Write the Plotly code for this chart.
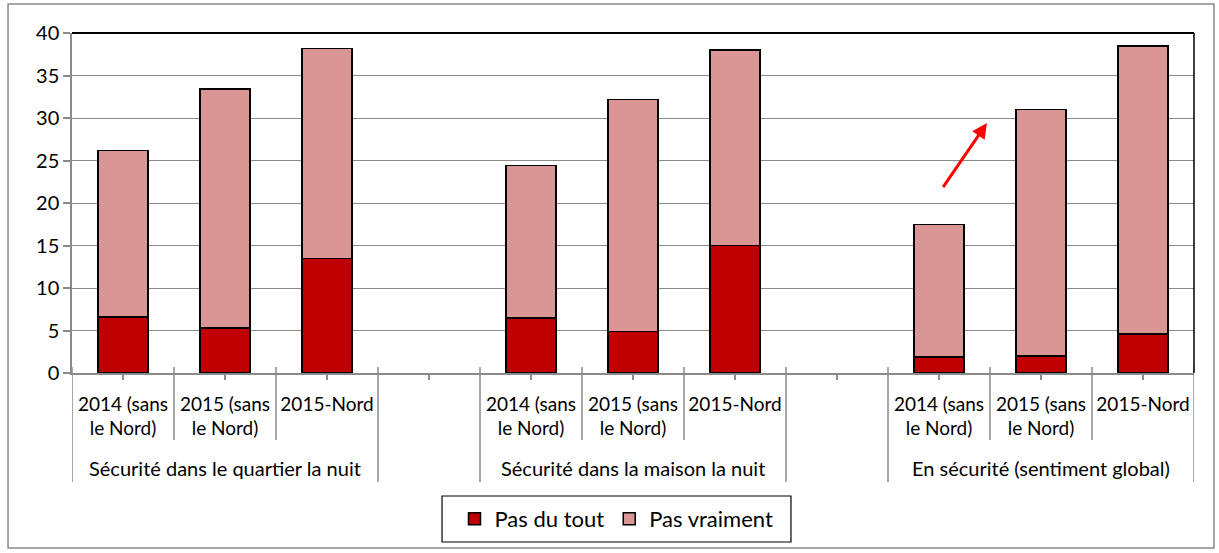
import plotly.graph_objects as go

# Data
groups = [
    "Sécurité dans le quartier la nuit",
    "Sécurité dans la maison la nuit",
    "En sécurité (sentiment global)",
]
periods = ["2014 (sans<br>le Nord)", "2015 (sans<br>le Nord)", "2015-Nord"]
pas_du_tout = [6.6, 5.3, 13.5, 6.5, 4.9, 15.0, 1.9, 2.0, 4.6]
pas_vraiment = [19.6, 28.1, 24.7, 17.9, 27.3, 23.0, 15.6, 29.0, 33.9]
y_ticks = [0, 5, 10, 15, 20, 25, 30, 35, 40]

FONT = "Lato"
DARK = "#C00000"
LIGHT = "#D99694"
GRID = "#8a8a8a"

# one empty slot after each group, like the Excel sheet
slot = len(periods) + 1
x_pos = [g * slot + i for g in range(len(groups)) for i in range(len(periods))]
n_slots = len(groups) * slot - 1

tick_vals = list(range(n_slots))
tick_text = []
for k in tick_vals:
    i = k % slot
    tick_text.append(periods[i] if i < len(periods) else "")

fig = go.Figure()
fig.add_trace(
    go.Bar(
        name="Pas du tout",
        x=x_pos,
        y=pas_du_tout,
        width=0.49,
        marker=dict(color=DARK, line=dict(color="black", width=1.5)),
    )
)
fig.add_trace(
    go.Bar(
        name="Pas vraiment",
        x=x_pos,
        y=pas_vraiment,
        width=0.49,
        marker=dict(color=LIGHT, line=dict(color="black", width=1.5)),
    )
)

shapes = []
# divider lines under the category axis
for k in range(n_slots + 1):
    b = k - 0.5
    is_group_edge = k % slot == 0 or k % slot == len(periods) or k == n_slots
    shapes.append(
        dict(
            type="line", xref="x", yref="paper",
            x0=b, x1=b, y0=0.018, y1=-0.3206 if is_group_edge else -0.197,
            line=dict(color=GRID, width=1.5),
        )
    )
# black plot border on top and right
shapes.append(dict(type="line", xref="paper", yref="paper", x0=0, x1=1, y0=1, y1=1,
                   line=dict(color="black", width=2)))
shapes.append(dict(type="line", xref="paper", yref="paper", x0=1, x1=1, y0=0, y1=1,
                   line=dict(color="black", width=1.5)))
# legend box
shapes.append(dict(type="rect", xref="paper", yref="paper",
                   x0=0.3298, x1=0.6408, y0=-0.497, y1=-0.3618,
                   line=dict(color="black", width=1.2)))
# outer chart border
shapes.append(dict(type="rect", xref="paper", yref="paper",
                   x0=-0.0570, x1=1.0178, y0=-0.5147, y1=1.0853,
                   line=dict(color=GRID, width=1.5)))

annotations = []
for g, name in enumerate(groups):
    annotations.append(
        dict(
            text=name, xref="x", yref="paper",
            x=g * slot + (len(periods) - 1) / 2, y=-0.279,
            showarrow=False, yanchor="middle",
            font=dict(family=FONT, size=20, color="black"),
        )
    )
# red arrow
annotations.append(
    dict(
        x=8.47, y=29.4, ax=8.03, ay=21.7, xref="x", yref="y", axref="x", ayref="y",
        text="", showarrow=True, arrowhead=2, arrowsize=1, arrowwidth=3,
        arrowcolor="#FF0000",
    )
)

fig.update_layout(
    width=1219,
    height=553,
    margin=dict(l=72, r=25, t=33, b=180),
    barmode="stack",
    paper_bgcolor="white",
    plot_bgcolor="white",
    font=dict(family=FONT, size=19, color="black"),
    shapes=shapes,
    annotations=annotations,
    legend=dict(
        orientation="h", x=0.4853, y=-0.4294, xanchor="center", yanchor="middle",
        font=dict(family=FONT, size=22), traceorder="normal",
        bgcolor="rgba(0,0,0,0)",
    ),
)
fig.update_xaxes(
    range=[-0.5, n_slots - 0.5],
    tickvals=tick_vals,
    ticktext=tick_text,
    ticks="outside",
    ticklen=5,
    tickcolor=GRID,
    tickwidth=1.5,
    ticklabelstandoff=8,
    showgrid=False,
    showline=True,
    linecolor=GRID,
    linewidth=1.5,
    zeroline=False,
    tickfont=dict(family=FONT, size=19, color="black"),
)
fig.update_yaxes(
    range=[0, 40],
    tickvals=y_ticks,
    ticks="outside",
    ticklen=7,
    tickcolor=GRID,
    tickwidth=1.5,
    showgrid=True,
    gridcolor=GRID,
    gridwidth=1,
    showline=True,
    linecolor=GRID,
    linewidth=1.5,
    zeroline=False,
    tickfont=dict(family=FONT, size=20, color="black"),
)

# drop the default page margin so the figure sits at the window corner
fig.write_html(
    "out.html",
    config={"displayModeBar": False},
    post_script="document.body.style.margin='0';",
)
